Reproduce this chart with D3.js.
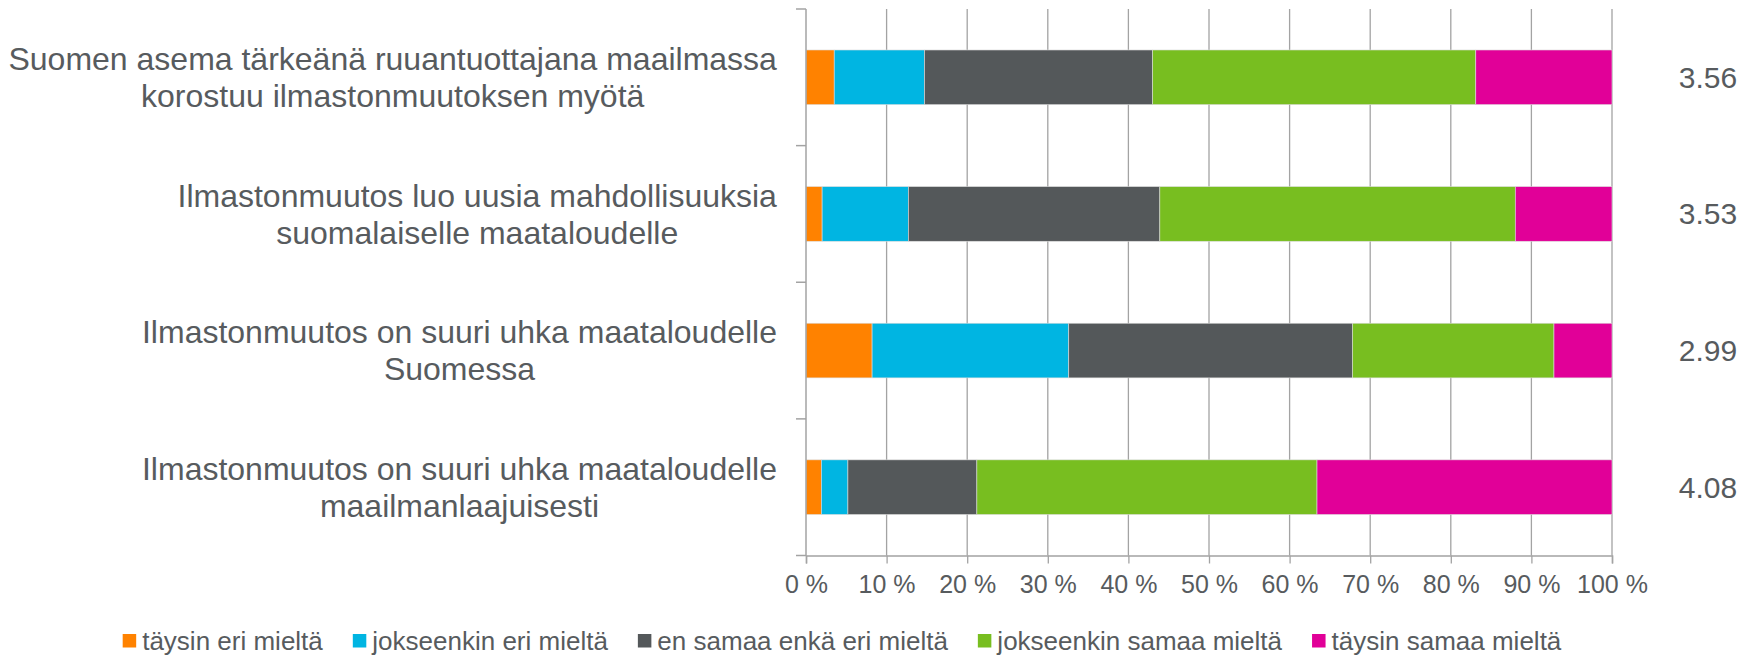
<html>
<script src="https://d3js.org/d3.v7.min.js"></script>
<style>
    body { margin: 0; background: #fff; }
    text { font-family: "Liberation Sans", Arial, sans-serif; fill: #575b5e; }
</style>
<body>
<svg id="chart"></svg>
<script>
    // statements (line breaks as in the original)
    var categories = [
        "Suomen asema tärkeänä ruuantuottajana maailmassa\nkorostuu ilmastonmuutoksen myötä",
        "Ilmastonmuutos luo uusia mahdollisuuksia\nsuomalaiselle maataloudelle",
        "Ilmastonmuutos on suuri uhka maataloudelle\nSuomessa",
        "Ilmastonmuutos on suuri uhka maataloudelle\nmaailmanlaajuisesti"
    ];
    var seriesNames = ["täysin eri mieltä", "jokseenkin eri mieltä", "en samaa enkä eri mieltä", "jokseenkin samaa mieltä", "täysin samaa mieltä"];
    var seriesColors = ["#ff8200", "#00b5e2", "#54585a", "#78be20", "#e10098"];

    // shares in percent, per category
    var taysinEri = [3.5, 2.0, 8.2, 1.9];
    var jokseenkinEri = [11.2, 10.7, 24.4, 3.3];
    var enSamaaEnkaEri = [28.3, 31.2, 35.2, 16.0];
    var jokseenkinSamaa = [40.1, 44.1, 25.0, 42.2];
    var taysinSamaa = [16.9, 12.0, 7.2, 36.6];
    var averages = ["3.56", "3.53", "2.99", "4.08"];
    var xTicks = [0, 10, 20, 30, 40, 50, 60, 70, 80, 90, 100];

    var width = 1760, height = 656;
    var svg = d3.select("#chart").attr("width", width).attr("height", height);

    var allSeries = [taysinEri, jokseenkinEri, enSamaaEnkaEri, jokseenkinSamaa, taysinSamaa];
    var rows = categories.map(function (c, i) {
        var r = { cat: c };
        seriesNames.forEach(function (s, j) { r[s] = allSeries[j][i]; });
        return r;
    });
    var stacked = d3.stack().keys(seriesNames)(rows);

    var x = d3.scaleLinear().domain([0, 100]).range([806, 1612]);
    var y = d3.scaleBand().domain(categories).range([9, 555.5]).paddingInner(0.6).paddingOuter(0.3);
    var gridColor = "#a3a3a3";

    // gridlines
    svg.append("g").selectAll("line")
        .data(xTicks.slice(1))
        .enter().append("line")
        .attr("x1", d => x(d)).attr("x2", d => x(d))
        .attr("y1", 9).attr("y2", 555.5)
        .attr("stroke", gridColor).attr("stroke-width", 1.3);

    // bars
    svg.append("g").selectAll("g")
        .data(stacked)
        .enter().append("g")
        .attr("fill", (d, i) => seriesColors[i])
        .selectAll("rect")
        .data(d => d)
        .enter().append("rect")
        .attr("x", d => x(d[0]))
        .attr("width", d => x(d[1]) - x(d[0]))
        .attr("y", d => y(d.data.cat))
        .attr("height", y.bandwidth())
        .attr("stroke", "#dcdcdc").attr("stroke-width", 0.6);

    // x axis
    var xAxis = svg.append("g")
        .attr("transform", "translate(0,555.5)")
        .call(d3.axisBottom(x).tickValues(xTicks).tickFormat(d => d + " %").tickSize(8).tickPadding(12));
    xAxis.select(".domain").attr("stroke", gridColor).attr("stroke-width", 1.5);
    xAxis.selectAll(".tick line").attr("stroke", gridColor).attr("stroke-width", 1.3);
    xAxis.selectAll("text").style("font-size", "25px").attr("fill", "#575b5e");

    // y axis with ticks on band boundaries
    var bounds = d3.range(categories.length + 1).map(i => 9 + i * (555.5 - 9) / categories.length);
    svg.append("line").attr("x1", 806).attr("x2", 806).attr("y1", 9).attr("y2", 555.5)
        .attr("stroke", gridColor).attr("stroke-width", 1.5);
    svg.append("g").selectAll("line")
        .data(bounds)
        .enter().append("line")
        .attr("x1", 796).attr("x2", 806)
        .attr("y1", d => d).attr("y2", d => d)
        .attr("stroke", gridColor).attr("stroke-width", 1.5);

    // category labels: block right aligned, lines centred within block
    var labelRight = 777, lineH = 37;
    categories.forEach(function (c) {
        var lines = c.split("\n");
        var cy = y(c) + y.bandwidth() / 2;
        var g = svg.append("g");
        var t = g.append("text").style("font-size", "32px").attr("text-anchor", "middle");
        lines.forEach(function (l, k) {
            t.append("tspan").attr("x", 0)
                .attr("y", cy + (k - (lines.length - 1) / 2) * lineH)
                .attr("dy", "0.35em").text(l);
        });
        var w = t.node().getBBox().width;
        t.attr("transform", "translate(" + (labelRight - w / 2) + ",0)");
    });

    // averages on the right
    svg.append("g").selectAll("text")
        .data(categories)
        .enter().append("text")
        .attr("x", 1708).attr("y", d => y(d) + y.bandwidth() / 2)
        .attr("dy", "0.35em").attr("text-anchor", "middle")
        .style("font-size", "30px")
        .text((d, i) => averages[i]);

    // legend
    var legend = svg.append("g");
    var lx = 0, sw = 13.5, gapText = 6, gapItem = 30;
    seriesNames.forEach(function (s, i) {
        var item = legend.append("g").attr("transform", "translate(" + lx + ",0)");
        item.append("rect").attr("x", 0).attr("y", 634).attr("width", sw).attr("height", sw).attr("fill", seriesColors[i]);
        var t = item.append("text").attr("x", sw + gapText).attr("y", 641).attr("dy", "0.35em")
            .style("font-size", "26px").text(s);
        lx += sw + gapText + t.node().getComputedTextLength() + gapItem;
    });
    var legendW = lx - gapItem;
    legend.attr("transform", "translate(" + (842 - legendW / 2) + ",0)");
</script>
</body>
</html>
